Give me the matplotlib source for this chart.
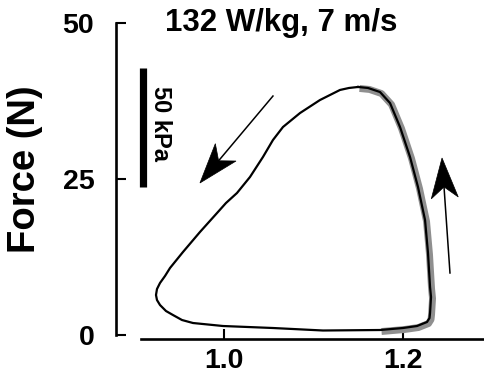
import matplotlib
matplotlib.use('Agg')
import matplotlib.pyplot as plt
import numpy as np
from matplotlib.patches import Polygon
import matplotlib.transforms as mtrans

plt.rcParams['font.family'] = ['Liberation Sans', 'DejaVu Sans']
plt.rcParams['font.weight'] = 'bold'

# Work loop data (length in arbitrary units, force in N), counterclockwise from peak
length = [1.1500, 1.1399, 1.1298, 1.1074, 1.0851, 1.0660, 1.0548, 1.0436, 1.0291, 1.0145,
          1.0022, 0.9922, 0.9731, 0.9541, 0.9396, 0.9340, 0.9284, 0.9250, 0.9239, 0.9250,
          0.9284, 0.9351, 0.9429, 0.9530, 0.9653, 0.9989, 1.0548, 1.1108, 1.1746, 1.2003,
          1.2160, 1.2272, 1.2300, 1.2306, 1.2317, 1.2306, 1.2283, 1.2250, 1.2171, 1.2082,
          1.1970, 1.1858, 1.1746, 1.1612, 1.1500]
force = [39.71, 39.55, 39.23, 37.62, 35.54, 33.30, 31.22, 28.50, 25.30, 22.73,
         21.13, 19.53, 16.49, 13.29, 10.73, 9.45, 8.33, 7.36, 6.40, 5.60,
         4.80, 3.84, 3.20, 2.40, 1.92, 1.44, 1.12, 0.72, 0.80, 1.12,
         1.44, 2.08, 2.72, 3.52, 6.08, 7.68, 13.13, 18.41, 23.70, 28.50,
         33.30, 37.14, 38.90, 39.55, 39.71]
highlight_start = 28  # index where the grey (shortening) segment begins

title = "132 W/kg, 7 m/s"
ylabel = "Force (N)"
yticks = [0, 25, 50]
ytick_labels = ["0", "25", "50"]
xticks = [1.0, 1.2]
xtick_labels = ["1.0", "1.2"]
scale_label = "50 kPa"
scale_x = 0.9093
scale_y = [23.70, 42.75]
arrow1 = [(1.0548, 38.26), (0.9731, 24.34)]  # tail, tip
arrow2 = [(1.2529, 9.93), (1.2440, 28.34)]

W, H = 485, 375
fig = plt.figure(figsize=(W / 100, H / 100), dpi=100)
ax = fig.add_axes([116.5 / W, 1 - 338.5 / H, 1 - 116.5 / W, (338.5 - 22.7) / H])
ax.set_xlim(0.8797, 1.2921)
ax.set_ylim(-0.56, 50)

for s in ['top', 'right']:
    ax.spines[s].set_visible(False)
ax.spines['left'].set_bounds(0, 50)
ax.spines['bottom'].set_bounds(0.907, 1.2921)
for s in ['left', 'bottom']:
    ax.spines[s].set_linewidth(1.9)

ax.set_yticks(yticks)
ax.set_yticklabels(ytick_labels)
ax.set_xticks(xticks)
ax.set_xticklabels(xtick_labels)
ax.tick_params(axis='y', direction='in', length=7.5, width=1.5, pad=16, labelsize=20.5)
ax.tick_params(axis='x', direction='in', length=7.5, width=1.5, pad=6.5, labelsize=20.5)
for lab in ax.get_xticklabels() + ax.get_yticklabels():
    lab.set_fontweight('bold')

# grey highlight
hx = length[highlight_start:]
hy = force[highlight_start:]
off = mtrans.offset_copy(ax.transData, fig=fig, x=1.5, y=-1.5, units='dots')
ax.plot(hx, hy, color='#8f8f8f', lw=5, solid_capstyle='butt', solid_joinstyle='round',
        transform=off, clip_on=False, zorder=2)
ax.plot(length, force, color='black', lw=1.6, solid_joinstyle='round', clip_on=False, zorder=3)

# scale bar
ax.plot([scale_x, scale_x], scale_y, color='black', lw=5.2, solid_capstyle='butt', clip_on=False)
ax.text(scale_x + 0.0191, 33.85, scale_label, rotation=-90, ha='center', va='center',
        fontsize=17, fontweight='bold')


def draw_arrow(tail, tip, L=40, hw=13.5, notch=29):
    t = ax.transData.transform(tail)
    p = ax.transData.transform(tip)
    d = p - t
    u = d / np.hypot(*d)
    n = np.array([-u[1], u[0]])
    b1 = p - u * L + n * hw
    b2 = p - u * L - n * hw
    nb = p - u * notch
    inv = ax.transData.inverted()
    poly = inv.transform(np.array([p, b1, nb, b2]))
    ax.add_patch(Polygon(poly, closed=True, facecolor='black', edgecolor='black', lw=0.5,
                         clip_on=False, zorder=4))
    shaft = inv.transform(np.array([t, nb + u * 2]))
    ax.plot(shaft[:, 0], shaft[:, 1], color='black', lw=1.1, clip_on=False, zorder=4)


draw_arrow(*arrow1)
draw_arrow(*arrow2)

fig.text(281 / W, 1 - 22.5 / H, title, ha='center', va='center', fontsize=22.5, fontweight='bold')
fig.text(25 / W, 1 - 169 / H, ylabel, rotation=90, ha='center', va='center', fontsize=27.5,
         fontweight='bold')

fig.savefig('out.png', dpi=100)
